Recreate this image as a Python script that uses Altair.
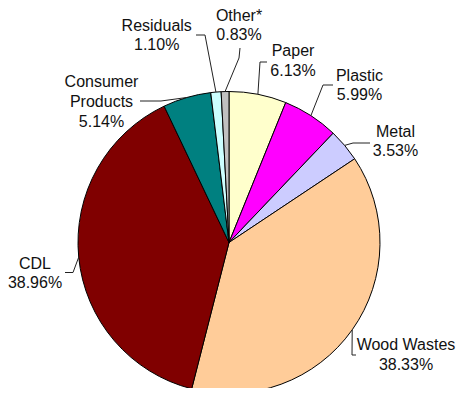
import math
import altair as alt
import pandas as pd

# ---- data ----
categories = ["Paper", "Plastic", "Metal", "Wood Wastes", "CDL",
              "Consumer Products", "Residuals", "Other*"]
label_text = ["Paper", "Plastic", "Metal", "Wood Wastes", "CDL",
              "Consumer\nProducts", "Residuals", "Other*"]
shares = [6.13, 5.99, 3.53, 38.33, 38.96, 5.14, 1.10, 0.83]
colors = ["#FFFFCC", "#FF00FF", "#CCCCFF", "#FFCC99", "#800000",
          "#008080", "#CCFFFF", "#C0C0C0"]

# ---- layout (page pixels, chart origin at 8,8) ----
OFF = 8
CX, CY, R = 229, 242.5, 151
label_pos = [(293, 56), (359.5, 80.5), (395.5, 136.5), (406, 350), (35, 268.5),
             (101.5, 87.3), (156.7, 30.7), (239, 20.7)]
bends = [(260, 62), (323, 85), (353, 143), (352, 355), (73, 272.5),
         (161, 101), (205, 35), (239, 58)]
ends = [(267, 62), (333, 85), (370, 143), (356, 355), (65, 272.5),
        (140, 101), (196, 35), (240, 48)]

pie_df = pd.DataFrame({"cat": categories, "value": shares,
                       "idx": list(range(len(categories)))})

total = sum(shares)
rows_line, rows_text = [], []
cum = 0.0
for i, (c, v) in enumerate(zip(categories, shares)):
    mid = (cum + v / 2) / total * 2 * math.pi
    cum += v
    sx = CX + R * math.sin(mid)
    sy = CY - R * math.cos(mid)
    pts = [(sx, sy), bends[i], ends[i]]
    for k, (px, py) in enumerate(pts):
        rows_line.append({"cat": c, "k": k, "px": px - OFF, "py": py - OFF})
    rows_text.append({"cat": c, "txt": f"{label_text[i]}\n{v:.2f}%",
                      "px": label_pos[i][0] - OFF, "py": label_pos[i][1] - OFF})

line_df = pd.DataFrame(rows_line)
text_df = pd.DataFrame(rows_text)

pie = alt.Chart(pie_df).mark_arc(radius=R, stroke="black", strokeWidth=1).encode(
    theta=alt.Theta("value:Q", stack=True),
    color=alt.Color("cat:N", scale=alt.Scale(domain=categories, range=colors), legend=None),
    order=alt.Order("idx:Q"),
    x=alt.value(CX - OFF),
    y=alt.value(CY - OFF),
)

leaders = alt.Chart(line_df).mark_line(color="#222222", strokeWidth=1).encode(
    x=alt.X("px:Q", scale=None, axis=None),
    y=alt.Y("py:Q", scale=None, axis=None),
    detail="cat:N",
    order="k:Q",
)

labels = alt.Chart(text_df).mark_text(
    font="Liberation Sans", fontSize=16, align="center", baseline="alphabetic",
    lineBreak="\n", lineHeight=19.7, color="#111111"
).encode(
    x=alt.X("px:Q", scale=None, axis=None),
    y=alt.Y("py:Q", scale=None, axis=None),
    text="txt:N",
)

chart = alt.layer(pie, leaders, labels).properties(
    width=448, height=380, padding=0, autosize=alt.AutoSizeParams(type="none")
).configure_view(stroke=None)

chart.save("out.html", embed_options={"renderer": "svg", "actions": False})
